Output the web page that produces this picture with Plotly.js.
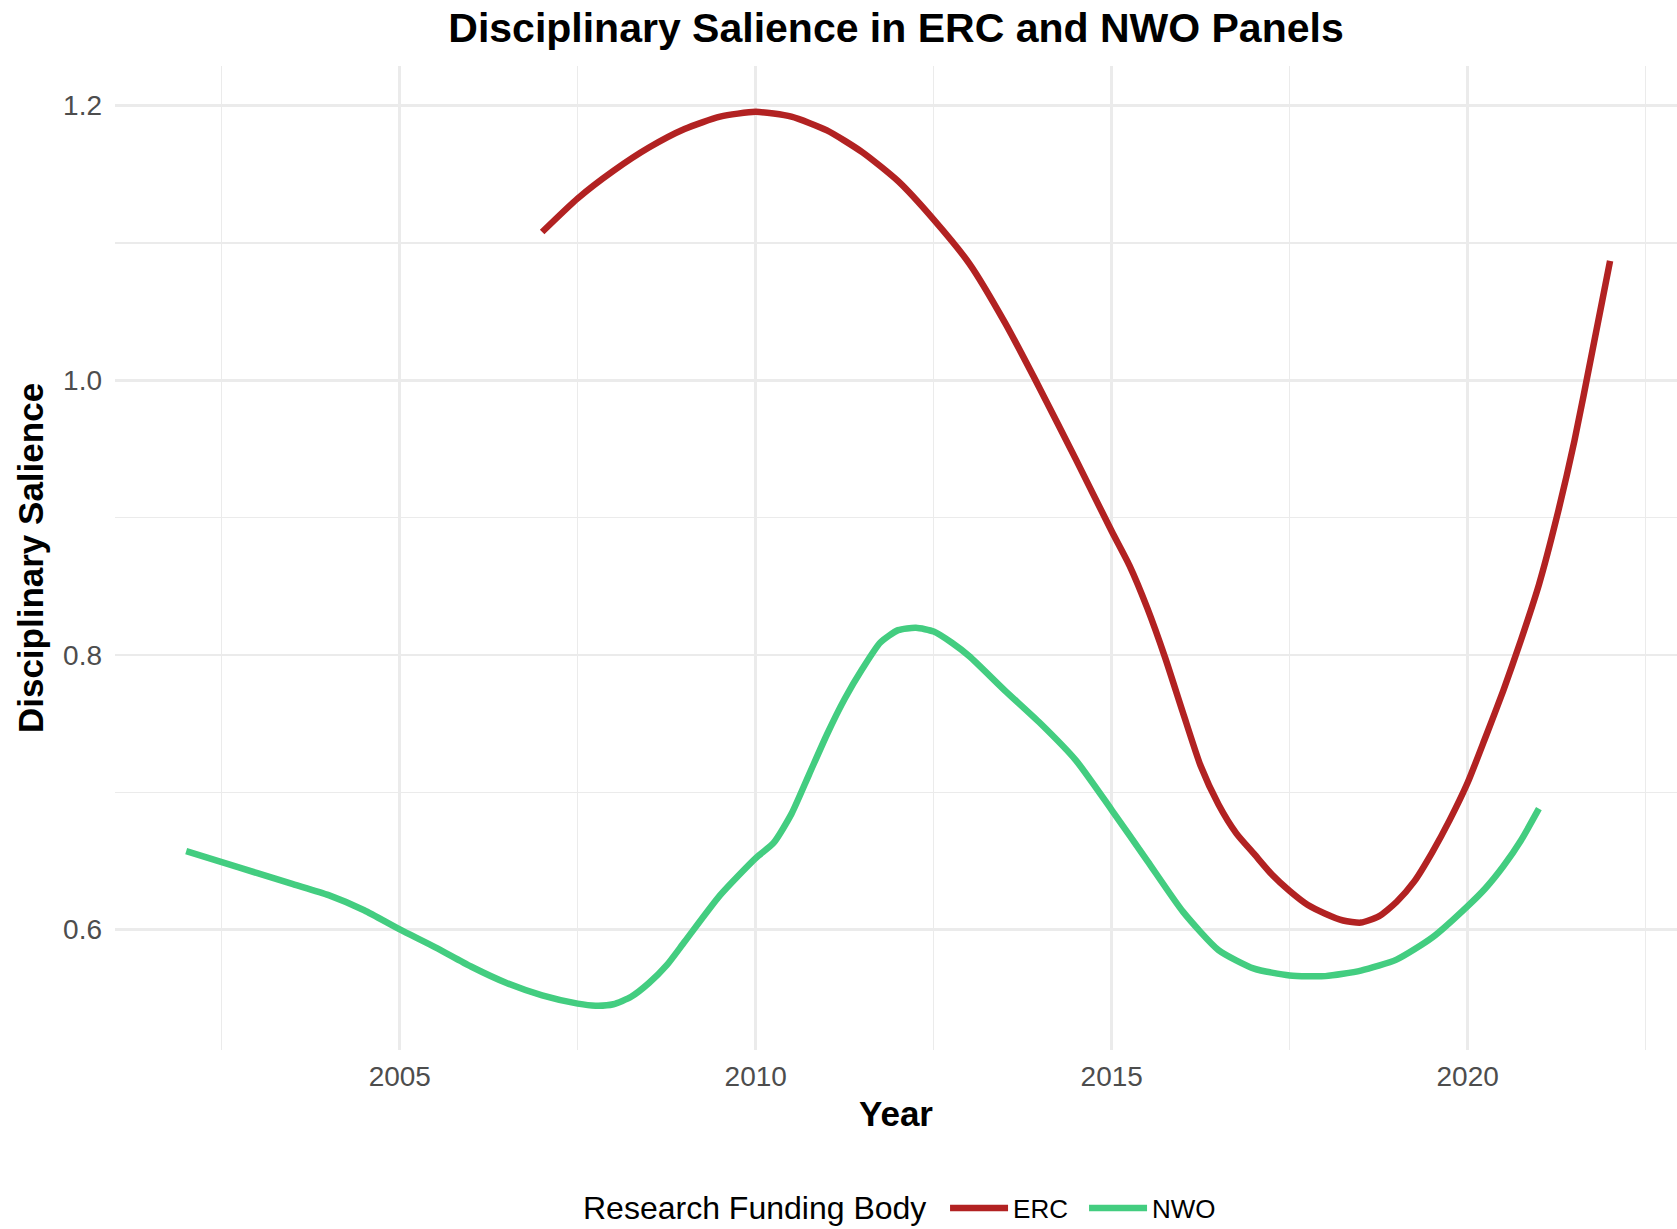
<!DOCTYPE html>
<html>
<head>
<meta charset="utf-8">
<script src="https://cdn.plot.ly/plotly-3.0.1.min.js"></script>
<style>
  html, body { margin: 0; padding: 0; background: #ffffff; }
  #chart { width: 1677px; height: 1229px; }
</style>
</head>
<body>
<div id="chart"></div>
<script>
// ---- Data ----
const ercYears = [2007.0, 2007.5, 2008.0, 2008.5, 2009.0, 2009.5, 2010.0, 2010.5, 2011.0, 2011.5,
                  2012.0, 2012.5, 2013.0, 2013.5, 2014.0, 2014.5, 2015.0, 2015.25, 2015.5, 2015.75,
                  2016.0, 2016.25, 2016.5, 2016.75, 2017.0, 2017.25, 2017.5, 2017.75, 2018.0, 2018.25,
                  2018.5, 2018.75, 2019.0, 2019.25, 2019.5, 2019.75, 2020.0, 2020.25, 2020.5, 2020.75,
                  2021.0, 2021.25, 2021.5, 2021.75, 2022.0];
const ercValues = [1.108, 1.1325, 1.1525, 1.1695, 1.183, 1.192, 1.1955, 1.192, 1.182, 1.166,
                   1.145, 1.117, 1.085, 1.042, 0.993, 0.942, 0.890, 0.865, 0.834, 0.798,
                   0.758, 0.719, 0.691, 0.670, 0.655, 0.640, 0.628, 0.618, 0.6115, 0.6065,
                   0.605, 0.6095, 0.620, 0.635, 0.656, 0.680, 0.707, 0.740, 0.774, 0.811,
                   0.851, 0.900, 0.956, 1.021, 1.087];

const nwoYears = [2002.0, 2002.5, 2003.0, 2003.5, 2004.0, 2004.5, 2005.0, 2005.5, 2006.0, 2006.5,
                  2007.0, 2007.5, 2007.75, 2008.0, 2008.25, 2008.5, 2008.75, 2009.0, 2009.5, 2010.0,
                  2010.25, 2010.5, 2010.75, 2011.0, 2011.25, 2011.5, 2011.75, 2012.0, 2012.25, 2012.5,
                  2012.75, 2013.0, 2013.5, 2014.0, 2014.5, 2015.0, 2015.5, 2016.0, 2016.5, 2017.0,
                  2017.5, 2018.0, 2018.5, 2019.0, 2019.5, 2020.0, 2020.25, 2020.5, 2020.75, 2021.0];
const nwoValues = [0.657, 0.649, 0.641, 0.633, 0.625, 0.614, 0.600, 0.587, 0.573, 0.561,
                   0.552, 0.546, 0.5445, 0.5455, 0.551, 0.561, 0.574, 0.591, 0.625, 0.652,
                   0.663, 0.684, 0.713, 0.742, 0.768, 0.790, 0.809, 0.818, 0.8197, 0.817,
                   0.809, 0.799, 0.774, 0.750, 0.723, 0.687, 0.650, 0.613, 0.585, 0.5715,
                   0.5665, 0.566, 0.570, 0.578, 0.594, 0.617, 0.630, 0.646, 0.665, 0.688];

const seriesNames = ['ERC', 'NWO'];
const seriesColors = ['#B22222', '#43CD80'];

const xTickVals = [2005, 2010, 2015, 2020];
const xTickText = ['2005', '2010', '2015', '2020'];
const yTickVals = [0.6, 0.8, 1.0, 1.2];
const yTickText = ['0.6', '0.8', '1.0', '1.2'];

const chartTitle = 'Disciplinary Salience in ERC and NWO Panels';
const xTitle = 'Year';
const yTitle = 'Disciplinary Salience';
const legendTitle = 'Research Funding Body';

// ---- Plot ----
const FONT = 'Liberation Sans, Arial, Helvetica, sans-serif';
const GRID = '#EBEBEB';

const traces = [
  { x: ercYears, y: ercValues, name: seriesNames[0], type: 'scatter', mode: 'lines',
    line: { color: seriesColors[0], width: 6.5, shape: 'spline', smoothing: 0.6 } },
  { x: nwoYears, y: nwoValues, name: seriesNames[1], type: 'scatter', mode: 'lines',
    line: { color: seriesColors[1], width: 6.5, shape: 'spline', smoothing: 0.6 } }
];

const layout = {
  width: 1677, height: 1229,
  paper_bgcolor: '#ffffff', plot_bgcolor: '#ffffff',
  font: { family: FONT, color: '#000000' },
  margin: { l: 115, r: 0, t: 66, b: 179, pad: 0 },
  title: { text: '<b>' + chartTitle + '</b>', font: { family: FONT, size: 41, color: '#000000' },
           x: 0.5, xref: 'paper', xanchor: 'center', y: 1 - 28 / 1229, yref: 'container', yanchor: 'middle' },
  xaxis: {
    range: [2001, 2022.94], tickvals: xTickVals, ticktext: xTickText,
    showgrid: true, gridcolor: GRID, gridwidth: 2.6, zeroline: false, showline: false, ticks: '',
    tickfont: { family: FONT, size: 28, color: '#4D4D4D' }, ticklabelstandoff: 7,
    minor: { tickvals: [2002.5, 2007.5, 2012.5, 2017.5, 2022.5], showgrid: true, gridcolor: GRID, gridwidth: 1.3, ticks: '' },
    title: { text: '<b>' + xTitle + '</b>', font: { family: FONT, size: 35, color: '#000000' }, standoff: 10 },
    automargin: false, fixedrange: true
  },
  yaxis: {
    range: [0.5122, 1.2289], tickvals: yTickVals, ticktext: yTickText,
    showgrid: true, gridcolor: GRID, gridwidth: 2.6, zeroline: false, showline: false, ticks: '',
    tickfont: { family: FONT, size: 28, color: '#4D4D4D' }, ticklabelstandoff: 12,
    minor: { tickvals: [0.7, 0.9, 1.1], showgrid: true, gridcolor: GRID, gridwidth: 1.3, ticks: '' },
    title: { text: '<b>' + yTitle + '</b>', font: { family: FONT, size: 35, color: '#000000' }, standoff: 8 },
    automargin: false, fixedrange: true
  },
  showlegend: true,
  legend: {
    orientation: 'h', x: 0.5314, xanchor: 'left', xref: 'paper',
    y: 1 - 1208 / 1229, yref: 'container', yanchor: 'middle',
    font: { family: FONT, size: 26, color: '#000000' },
    bgcolor: 'rgba(0,0,0,0)', itemwidth: 58, entrywidth: 66, entrywidthmode: 'pixels'
  },
  annotations: [
    { text: legendTitle, xref: 'paper', yref: 'paper', x: (928 - 115) / 1562, y: (1050 - 1208) / 984,
      xanchor: 'right', yanchor: 'middle', showarrow: false,
      font: { family: FONT, size: 32, color: '#000000' } }
  ]
};

Plotly.newPlot('chart', traces, layout, { displayModeBar: false, staticPlot: true });
</script>
</body>
</html>
